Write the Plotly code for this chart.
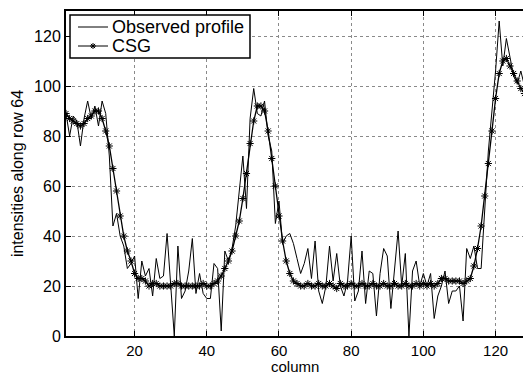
import plotly.graph_objects as go

columns = list(range(1, 129))

observed = [
    89, 80, 88, 86, 76, 87, 94, 87, 92, 84,
    94, 89, 72, 44, 49, 40, 36, 27, 29, 32,
    15, 30, 24, 27, 16, 31, 23, 24, 41, 20,
    0, 36, 15, 18, 26, 39, 17, 25, 17, 15,
    15, 29, 27, 2, 34, 30, 35, 44, 57, 72,
    51, 87, 99, 89, 88, 94, 80, 74, 45, 54,
    37, 40, 41, 37, 31, 25, 29, 35, 23, 38,
    18, 13, 20, 36, 22, 33, 20, 16, 22, 40,
    14, 18, 34, 13, 26, 25, 8, 25, 35, 32,
    11, 27, 42, 20, 33, 0, 26, 30, 20, 25,
    20, 25, 7, 16, 20, 26, 13, 18, 18, 20,
    6, 35, 31, 36, 27, 27, 52, 74, 90, 106,
    126, 108, 119, 111, 104, 101, 106, 100,
]

csg = [
    89, 87, 86, 85, 84, 85, 87, 88, 90, 90,
    87, 82, 76, 67, 58, 48, 40, 34, 30, 25,
    23, 23, 22, 20, 21, 21, 20, 20, 20, 20,
    21, 21, 20, 20, 20, 20, 20, 20, 21, 20,
    20, 21, 22, 24, 27, 30, 34, 40, 46, 55,
    65, 77, 86, 92, 92, 90, 82, 71, 60, 48,
    38, 30, 25, 22, 21, 20, 20, 21, 20, 20,
    21, 20, 20, 21, 20, 19, 21, 20, 20, 21,
    20, 20, 21, 20, 20, 21, 20, 20, 21, 20,
    20, 21, 20, 20, 21, 20, 20, 21, 20, 21,
    20, 21, 20, 21, 23, 23, 22, 22, 22, 22,
    21, 22, 23, 28, 35, 44, 56, 69, 82, 95,
    105, 110, 111, 108, 105, 102, 99, 97,
]

series_names = ["Observed profile", "CSG"]
x_ticks = [20, 40, 60, 80, 100, 120]
y_ticks = [0, 20, 40, 60, 80, 100, 120]

FONT = "Liberation Sans, Arial, Helvetica, sans-serif"

W, H = 523, 376
ML, MR, MT, MB = 66, 0, 11, 40
PW, PH = W - ML - MR, H - MT - MB


def px(xp):
    return (xp - ML) / PW


def py(yp):
    return (H - MB - yp) / PH


fig = go.Figure()
fig.add_trace(go.Scatter(
    x=columns, y=observed, mode="lines", name=series_names[0],
    line=dict(color="black", width=1), showlegend=False,
))
fig.add_trace(go.Scatter(
    x=columns, y=csg, mode="lines+markers", name=series_names[1],
    line=dict(color="black", width=1.3), showlegend=False,
    marker=dict(symbol="asterisk-open", size=6, color="black",
                line=dict(color="black", width=1)),
))

# legend box drawn as shapes + text annotations (MATLAB style)
shapes = [
    dict(type="rect", xref="paper", yref="paper",
         x0=px(70), x1=px(250), y0=py(58), y1=py(15),
         line=dict(color="black", width=1.5), fillcolor="white", layer="above"),
]
row_y = [27, 46]
for ry in row_y:
    shapes.append(dict(type="line", xref="paper", yref="paper",
                       x0=px(78), x1=px(108), y0=py(ry), y1=py(ry),
                       line=dict(color="black", width=1), layer="above"))
# asterisk in the CSG sample
cx, cy, r = 93, row_y[1], 3
for dx, dy in [(r, 0), (0, r), (r * 0.7, r * 0.7), (r * 0.7, -r * 0.7)]:
    shapes.append(dict(type="line", xref="paper", yref="paper",
                       x0=px(cx - dx), x1=px(cx + dx),
                       y0=py(cy - dy), y1=py(cy + dy),
                       line=dict(color="black", width=1), layer="above"))

annotations = []
for name, ry in zip(series_names, row_y):
    annotations.append(dict(
        text=name, xref="paper", yref="paper", x=px(110), y=py(ry),
        xanchor="left", yanchor="middle", showarrow=False,
        font=dict(family=FONT, size=18, color="black"),
    ))
annotations.append(dict(
    text="column", xref="paper", yref="paper", x=0.5, y=py(376),
    xanchor="center", yanchor="bottom", showarrow=False, borderpad=0,
    font=dict(family=FONT, size=15, color="black"),
))

fig.update_layout(
    width=W, height=H,
    margin=dict(l=ML, r=MR, t=MT, b=MB),
    paper_bgcolor="white", plot_bgcolor="white",
    font=dict(family=FONT, color="black", size=16),
    showlegend=False,
    shapes=shapes, annotations=annotations,
)
fig.update_xaxes(
    range=[1, 127.6], tickvals=x_ticks, ticks="inside", ticklen=5,
    tickcolor="black", showline=True, linecolor="black", linewidth=2,
    mirror="ticks", showgrid=True, gridcolor="#8a8a8a", griddash="dot",
    gridwidth=1, zeroline=False,
    tickfont=dict(family=FONT, size=15, color="black"),
    automargin=False,
)
fig.update_yaxes(
    range=[0, 130], tickvals=y_ticks, ticks="inside", ticklen=5,
    tickcolor="black", showline=True, linecolor="black", linewidth=2,
    mirror=False, showgrid=True, gridcolor="#8a8a8a", griddash="dot",
    gridwidth=1, zeroline=False,
    tickfont=dict(family=FONT, size=16, color="black"),
    title=dict(text="intensities along row 64",
               font=dict(family=FONT, size=16, color="black"), standoff=6),
    automargin=False,
)

fig.write_html("out.html")
